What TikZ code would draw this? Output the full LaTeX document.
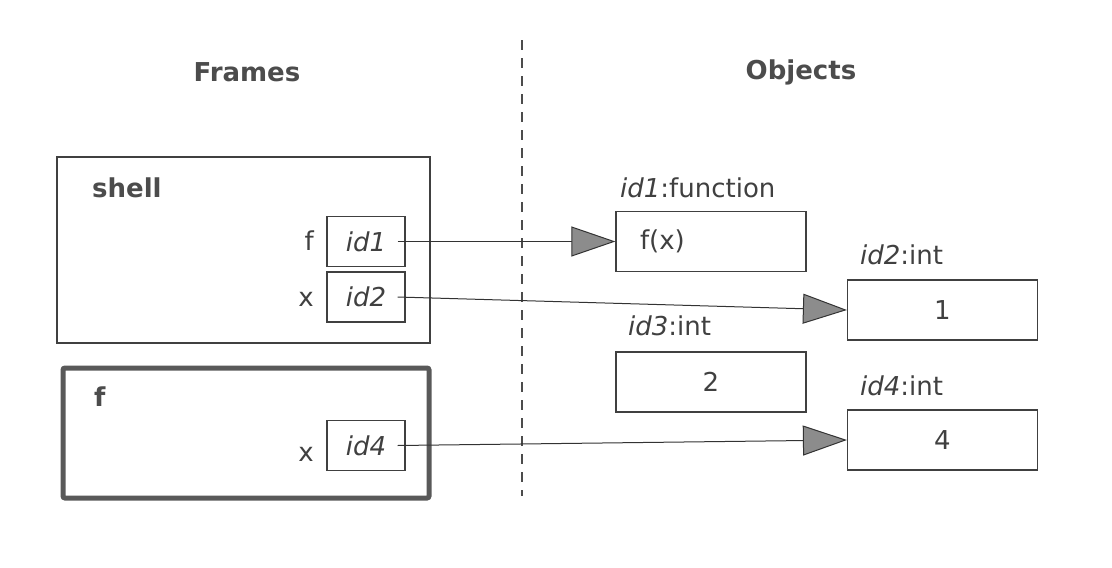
\documentclass[tikz,border=0pt]{standalone}
\usepackage{fontspec}
\setmainfont{DejaVu Sans}
\usetikzlibrary{arrows.meta}
\begin{document}
\begin{tikzpicture}[x=1pt,y=-1pt,
  txt/.style={font=\fontsize{26}{30}\selectfont, text=black!75, inner sep=0pt},
  ttl/.style={font=\fontsize{26}{30}\selectfont\bfseries, text=black!70, inner sep=0pt},
  idbox/.style={draw=black!75, line width=1.2pt, minimum width=78pt, minimum height=50pt, inner sep=0pt, font=\fontsize{26}{30}\selectfont\itshape, text=black!75},
  objbox/.style={draw=black!75, line width=1.2pt, minimum width=190pt, minimum height=60pt, inner sep=0pt, font=\fontsize{26}{30}\selectfont, text=black!75},
  ref/.style={draw=black!80, line width=1pt, -{Triangle[length=44pt,width=30pt,fill=black!45]}},
]
\useasboundingbox (0,0) rectangle (1112,568);
% titles
\node[ttl] (tframes) at (247,72) {Frames};
\node[ttl] (tobjects) at (801,72) {Objects};
\coordinate (dtop) at (522,40);
\coordinate (dbot) at (522,496);
\draw[black!70, line width=1.2pt, dash pattern=on 10pt off 8pt] (dtop) -- (dbot);
% shell frame
\node[draw=black!75, line width=1.2pt, minimum width=373pt, minimum height=186pt, inner sep=0pt] (shell) at (243.5,250) {};
\node[ttl, anchor=base west] (shelllbl) at (92,197) {shell};
\node[idbox] (id1) at (366,241.5) {id1};
\node[idbox] (id2) at (366,297) {id2};
\node[txt, anchor=base east] (lf) at (314,250) {f};
\node[txt, anchor=base east] (lx) at (314,306) {x};
% f frame
\node[draw=black!65, line width=5pt, minimum width=366pt, minimum height=130pt, inner sep=0pt, rounded corners=2pt] (fframe) at (246,433) {};
\node[ttl, anchor=base west] (flbl) at (94,406) {f};
\node[idbox] (id4) at (366,445.5) {id4};
\node[txt, anchor=base east] (lx2) at (314,461) {x};
% objects
\node[txt, anchor=base west] (o1lbl) at (620,197) {\textit{id1}:function};
\node[objbox, text width=142pt, align=left] (o1) at (711,241.5) {f(x)};
\node[txt, anchor=base west] (o2lbl) at (860,264) {\textit{id2}:int};
\node[objbox] (o2) at (942.5,310) {1};
\node[txt, anchor=base west] (o3lbl) at (628,335) {\textit{id3}:int};
\node[objbox] (o3) at (711,382) {2};
\node[txt, anchor=base west] (o4lbl) at (860,395) {\textit{id4}:int};
\node[objbox] (o4) at (942.5,440) {4};
% references
\coordinate (s1) at ([xshift=-8pt]id1.east);
\coordinate (s2) at ([xshift=-8pt]id2.east);
\coordinate (s4) at ([xshift=-8pt]id4.east);
\draw[ref] (s1) -- (o1.west);
\draw[ref] (s2) -- (o2.west);
\draw[ref] (s4) -- (o4.west);
\end{tikzpicture}
\end{document}
